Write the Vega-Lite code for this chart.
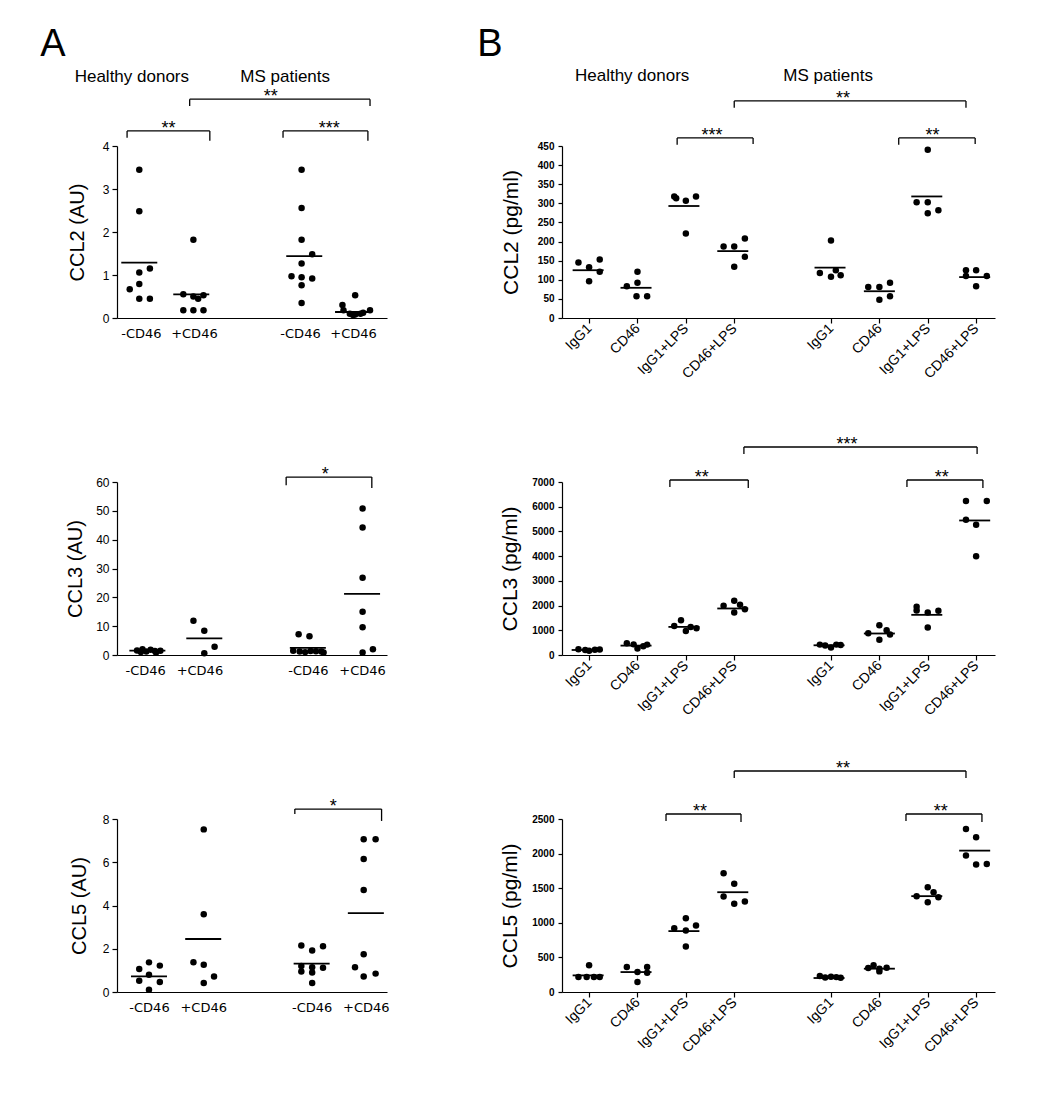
{
"$schema":"https://vega.github.io/schema/vega-lite/v6.json",
"background":"white",
"padding":{"left":40,"top":26,"right":10,"bottom":10},
"bounds":"flush",
"columns":2,
"spacing":{"row":164,"column":175},
"config":{"view":{"stroke":null},"font":"Liberation Sans","axis":{"domainColor":"black","tickColor":"black","labelColor":"black","titleColor":"black","grid":false,"labelFont":"Liberation Sans","titleFont":"Liberation Sans","titleFontWeight":"normal","domainWidth":1.2,"tickWidth":1.2}},
"datasets":{
"A1":[
{"k":"p","x":0.97,"y":3.45},{"k":"p","x":0.97,"y":2.48},{"k":"p","x":1.17,"y":1.15},{"k":"p","x":0.97,"y":1.06},{"k":"p","x":0.97,"y":0.79},{"k":"p","x":0.79,"y":0.67},{"k":"p","x":0.97,"y":0.45},{"k":"p","x":1.17,"y":0.45},
{"k":"p","x":1.99,"y":1.82},{"k":"p","x":1.8,"y":0.55},{"k":"p","x":1.99,"y":0.5},{"k":"p","x":2.18,"y":0.53},{"k":"p","x":2.08,"y":0.45},{"k":"p","x":1.8,"y":0.18},{"k":"p","x":1.99,"y":0.18},{"k":"p","x":2.18,"y":0.18},
{"k":"p","x":4.03,"y":3.45},{"k":"p","x":4.03,"y":2.56},{"k":"p","x":4.03,"y":1.82},{"k":"p","x":4.23,"y":1.48},{"k":"p","x":4.03,"y":1.27},{"k":"p","x":3.84,"y":0.97},{"k":"p","x":4.03,"y":0.95},{"k":"p","x":4.23,"y":0.92},{"k":"p","x":4.03,"y":0.76},{"k":"p","x":4.03,"y":0.35},
{"k":"p","x":5.04,"y":0.53},{"k":"p","x":4.8,"y":0.3},{"k":"p","x":4.82,"y":0.18},{"k":"p","x":4.94,"y":0.1},{"k":"p","x":5.04,"y":0.08},{"k":"p","x":5.14,"y":0.1},{"k":"p","x":5.19,"y":0.12},{"k":"p","x":5.32,"y":0.18},{"k":"p","x":5.0,"y":0.07},
{"k":"m","x":0.97,"y":1.29},{"k":"m","x":1.95,"y":0.55},{"k":"m","x":4.08,"y":1.44},{"k":"m","x":5.0,"y":0.14},
{"k":"s","x":0.74,"x2":2.3,"y":4.35,"y2":4.35},{"k":"s","x":0.74,"x2":0.74,"y":4.35,"y2":4.19},{"k":"s","x":2.3,"x2":2.3,"y":4.35,"y2":4.12},
{"k":"s","x":3.68,"x2":5.28,"y":4.35,"y2":4.35},{"k":"s","x":3.68,"x2":3.68,"y":4.35,"y2":4.19},{"k":"s","x":5.28,"x2":5.28,"y":4.35,"y2":4.12},
{"k":"s","x":1.92,"x2":5.32,"y":5.09,"y2":5.09},{"k":"s","x":1.92,"x2":1.92,"y":5.09,"y2":4.93},{"k":"s","x":5.32,"x2":5.32,"y":5.09,"y2":4.93},
{"k":"t","x":1.52,"y":4.35,"t":"**"},{"k":"t","x":4.55,"y":4.35,"t":"***"},{"k":"t","x":3.45,"y":5.09,"t":"**"},
{"k":"h","x":0.83,"y":5.6,"t":"Healthy donors"},{"k":"h","x":3.72,"y":5.6,"t":"MS patients"},
{"k":"L","x":-0.66,"y":6.09,"t":"A"}
],
"B1":[
{"k":"p","x":0.78,"y":145},{"k":"p","x":1.0,"y":133},{"k":"p","x":1.22,"y":153},{"k":"p","x":1.22,"y":121},{"k":"p","x":1.0,"y":96},
{"k":"p","x":2.0,"y":121},{"k":"p","x":1.78,"y":83},{"k":"p","x":2.0,"y":92},{"k":"p","x":1.98,"y":57},{"k":"p","x":2.2,"y":57},
{"k":"p","x":2.76,"y":318},{"k":"p","x":2.8,"y":313},{"k":"p","x":3.0,"y":307},{"k":"p","x":3.21,"y":318},{"k":"p","x":3.0,"y":221},
{"k":"p","x":3.78,"y":187},{"k":"p","x":4.0,"y":187},{"k":"p","x":4.22,"y":208},{"k":"p","x":4.22,"y":160},{"k":"p","x":4.0,"y":134},
{"k":"p","x":6.0,"y":203},{"k":"p","x":5.77,"y":118},{"k":"p","x":6.0,"y":108},{"k":"p","x":6.1,"y":125},{"k":"p","x":6.2,"y":112},
{"k":"p","x":6.77,"y":81},{"k":"p","x":7.0,"y":81},{"k":"p","x":7.22,"y":92},{"k":"p","x":7.0,"y":48},{"k":"p","x":7.22,"y":57},
{"k":"p","x":8.0,"y":440},{"k":"p","x":7.77,"y":303},{"k":"p","x":8.0,"y":303},{"k":"p","x":8.0,"y":274},{"k":"p","x":8.22,"y":282},
{"k":"p","x":8.79,"y":125},{"k":"p","x":9.0,"y":125},{"k":"p","x":8.79,"y":110},{"k":"p","x":9.22,"y":110},{"k":"p","x":9.0,"y":83},
{"k":"m","x":0.98,"y":125},{"k":"m","x":1.97,"y":79},{"k":"m","x":2.96,"y":293},{"k":"m","x":3.97,"y":175},{"k":"m","x":5.98,"y":132},{"k":"m","x":7.0,"y":70},{"k":"m","x":7.98,"y":318},{"k":"m","x":8.97,"y":107},
{"k":"s","x":2.82,"x2":4.39,"y":471,"y2":471},{"k":"s","x":2.82,"x2":2.82,"y":471,"y2":453},{"k":"s","x":4.39,"x2":4.39,"y":471,"y2":455},
{"k":"s","x":7.4,"x2":8.98,"y":471,"y2":471},{"k":"s","x":7.4,"x2":7.4,"y":471,"y2":453},{"k":"s","x":8.98,"x2":8.98,"y":471,"y2":455},
{"k":"s","x":4.0,"x2":8.79,"y":568,"y2":568},{"k":"s","x":4.0,"x2":4.0,"y":568,"y2":550},{"k":"s","x":8.79,"x2":8.79,"y":568,"y2":550},
{"k":"t","x":3.54,"y":471,"t":"***"},{"k":"t","x":8.1,"y":471,"t":"**"},{"k":"t","x":6.25,"y":568,"t":"**"},
{"k":"h","x":1.89,"y":633,"t":"Healthy donors"},{"k":"h","x":5.94,"y":633,"t":"MS patients"},
{"k":"L","x":-1.05,"y":685,"t":"B"}
],
"A2":[
{"k":"p","x":0.85,"y":1.6},{"k":"p","x":0.95,"y":2.0},{"k":"p","x":1.02,"y":1.2},{"k":"p","x":1.1,"y":1.8},{"k":"p","x":1.18,"y":1.4},{"k":"p","x":1.28,"y":1.5},{"k":"p","x":0.92,"y":1.0},{"k":"p","x":1.2,"y":0.9},
{"k":"p","x":1.89,"y":11.9},{"k":"p","x":2.09,"y":8.4},{"k":"p","x":2.28,"y":2.9},{"k":"p","x":2.09,"y":0.6},
{"k":"p","x":3.83,"y":7.2},{"k":"p","x":4.03,"y":6.5},{"k":"p","x":3.73,"y":1.5},{"k":"p","x":3.85,"y":1.2},{"k":"p","x":3.95,"y":1.0},{"k":"p","x":4.05,"y":1.4},{"k":"p","x":4.15,"y":1.3},{"k":"p","x":4.25,"y":1.2},{"k":"p","x":4.29,"y":0.9},
{"k":"p","x":5.01,"y":50.8},{"k":"p","x":5.01,"y":44.2},{"k":"p","x":5.01,"y":26.8},{"k":"p","x":5.01,"y":15.0},{"k":"p","x":5.01,"y":9.6},{"k":"p","x":5.01,"y":0.9},{"k":"p","x":5.2,"y":2.0},
{"k":"m","x":1.04,"y":1.5},{"k":"m","x":2.09,"y":5.8},{"k":"m","x":4.0,"y":2.5},{"k":"m","x":5.0,"y":21.2},
{"k":"s","x":3.6,"x2":5.18,"y":61.7,"y2":61.7},{"k":"s","x":3.6,"x2":3.6,"y":61.7,"y2":58.9},{"k":"s","x":5.18,"x2":5.18,"y":61.7,"y2":57.9},
{"k":"t","x":4.32,"y":61.7,"t":"*"}
],
"B2":[
{"k":"p","x":0.78,"y":230},{"k":"p","x":0.92,"y":200},{"k":"p","x":1.0,"y":170},{"k":"p","x":1.12,"y":210},{"k":"p","x":1.22,"y":220},
{"k":"p","x":1.78,"y":480},{"k":"p","x":1.92,"y":430},{"k":"p","x":2.0,"y":260},{"k":"p","x":2.12,"y":350},{"k":"p","x":2.2,"y":420},
{"k":"p","x":2.76,"y":1178},{"k":"p","x":2.9,"y":1408},{"k":"p","x":3.0,"y":975},{"k":"p","x":3.1,"y":1137},{"k":"p","x":3.22,"y":1083},
{"k":"p","x":3.78,"y":1990},{"k":"p","x":4.0,"y":2193},{"k":"p","x":4.12,"y":2031},{"k":"p","x":4.22,"y":1855},{"k":"p","x":4.0,"y":1720},
{"k":"p","x":5.77,"y":420},{"k":"p","x":5.88,"y":380},{"k":"p","x":6.0,"y":300},{"k":"p","x":6.11,"y":420},{"k":"p","x":6.2,"y":400},
{"k":"p","x":7.0,"y":1200},{"k":"p","x":6.77,"y":880},{"k":"p","x":7.15,"y":1000},{"k":"p","x":7.22,"y":830},{"k":"p","x":7.0,"y":620},
{"k":"p","x":7.77,"y":1950},{"k":"p","x":7.77,"y":1800},{"k":"p","x":8.0,"y":1720},{"k":"p","x":8.22,"y":1787},{"k":"p","x":8.0,"y":1110},
{"k":"p","x":8.79,"y":6228},{"k":"p","x":9.22,"y":6228},{"k":"p","x":8.79,"y":5470},{"k":"p","x":9.0,"y":5267},{"k":"p","x":9.0,"y":3994},
{"k":"m","x":0.96,"y":203},{"k":"m","x":1.97,"y":380},{"k":"m","x":2.96,"y":1137},{"k":"m","x":3.97,"y":1882},{"k":"m","x":5.96,"y":393},{"k":"m","x":7.0,"y":870},{"k":"m","x":7.98,"y":1625},{"k":"m","x":8.97,"y":5443},
{"k":"s","x":2.67,"x2":4.29,"y":7081,"y2":7081},{"k":"s","x":2.67,"x2":2.67,"y":7081,"y2":6798},{"k":"s","x":4.29,"x2":4.29,"y":7081,"y2":6757},
{"k":"s","x":7.57,"x2":9.14,"y":7081,"y2":7081},{"k":"s","x":7.57,"x2":7.57,"y":7081,"y2":6798},{"k":"s","x":9.14,"x2":9.14,"y":7081,"y2":6757},
{"k":"s","x":4.2,"x2":9.02,"y":8416,"y2":8416},{"k":"s","x":4.2,"x2":4.2,"y":8416,"y2":8133},{"k":"s","x":9.02,"x2":9.02,"y":8416,"y2":8133},
{"k":"t","x":3.33,"y":7081,"t":"**"},{"k":"t","x":8.29,"y":7081,"t":"**"},{"k":"t","x":6.33,"y":8416,"t":"***"}
],
"A3":[
{"k":"p","x":0.82,"y":1.06},{"k":"p","x":1.0,"y":1.37},{"k":"p","x":1.2,"y":1.22},{"k":"p","x":0.82,"y":0.52},{"k":"p","x":1.0,"y":0.8},{"k":"p","x":1.2,"y":0.46},{"k":"p","x":1.0,"y":0.1},
{"k":"p","x":2.01,"y":7.52},{"k":"p","x":2.01,"y":3.6},{"k":"p","x":1.82,"y":1.38},{"k":"p","x":2.01,"y":1.26},{"k":"p","x":2.01,"y":0.42},{"k":"p","x":2.2,"y":0.72},
{"k":"p","x":3.81,"y":2.15},{"k":"p","x":4.01,"y":1.92},{"k":"p","x":4.21,"y":2.12},{"k":"p","x":3.81,"y":1.2},{"k":"p","x":4.01,"y":1.15},{"k":"p","x":4.21,"y":1.12},{"k":"p","x":3.81,"y":0.95},{"k":"p","x":4.01,"y":0.9},{"k":"p","x":4.01,"y":0.42},
{"k":"p","x":4.96,"y":7.06},{"k":"p","x":5.18,"y":7.06},{"k":"p","x":4.96,"y":6.15},{"k":"p","x":4.96,"y":4.72},{"k":"p","x":4.96,"y":1.75},{"k":"p","x":4.8,"y":1.14},{"k":"p","x":4.96,"y":0.72},{"k":"p","x":5.18,"y":0.85},
{"k":"m","x":1.0,"y":0.72},{"k":"m","x":2.0,"y":2.45},{"k":"m","x":4.0,"y":1.31},{"k":"m","x":5.0,"y":3.65},
{"k":"s","x":3.69,"x2":5.29,"y":8.46,"y2":8.46},{"k":"s","x":3.69,"x2":3.69,"y":8.46,"y2":8.23},{"k":"s","x":5.29,"x2":5.29,"y":8.46,"y2":7.91},
{"k":"t","x":4.4,"y":8.46,"t":"*"}
],
"B3":[
{"k":"p","x":1.0,"y":385},{"k":"p","x":0.78,"y":216},{"k":"p","x":0.95,"y":216},{"k":"p","x":1.1,"y":216},{"k":"p","x":1.22,"y":216},
{"k":"p","x":1.78,"y":360},{"k":"p","x":2.0,"y":288},{"k":"p","x":2.2,"y":360},{"k":"p","x":2.2,"y":279},{"k":"p","x":2.0,"y":144},
{"k":"p","x":2.76,"y":923},{"k":"p","x":3.0,"y":1067},{"k":"p","x":3.0,"y":889},{"k":"p","x":3.21,"y":962},{"k":"p","x":3.0,"y":659},
{"k":"p","x":3.78,"y":1716},{"k":"p","x":4.0,"y":1563},{"k":"p","x":3.78,"y":1380},{"k":"p","x":4.0,"y":1274},{"k":"p","x":4.22,"y":1308},
{"k":"p","x":5.77,"y":230},{"k":"p","x":5.88,"y":210},{"k":"p","x":6.0,"y":220},{"k":"p","x":6.11,"y":215},{"k":"p","x":6.2,"y":205},
{"k":"p","x":6.77,"y":346},{"k":"p","x":6.88,"y":385},{"k":"p","x":7.0,"y":337},{"k":"p","x":7.15,"y":351},{"k":"p","x":7.0,"y":298},
{"k":"p","x":8.0,"y":1514},{"k":"p","x":8.12,"y":1442},{"k":"p","x":7.77,"y":1385},{"k":"p","x":8.22,"y":1370},{"k":"p","x":8.0,"y":1298},
{"k":"p","x":8.79,"y":2356},{"k":"p","x":9.0,"y":2236},{"k":"p","x":8.79,"y":1971},{"k":"p","x":9.0,"y":1841},{"k":"p","x":9.22,"y":1851},
{"k":"m","x":0.98,"y":240},{"k":"m","x":1.97,"y":288},{"k":"m","x":2.96,"y":880},{"k":"m","x":3.97,"y":1442},{"k":"m","x":5.96,"y":202},{"k":"m","x":7.0,"y":337},{"k":"m","x":7.98,"y":1385},{"k":"m","x":8.97,"y":2043},
{"k":"s","x":2.59,"x2":4.14,"y":2572,"y2":2572},{"k":"s","x":2.59,"x2":2.59,"y":2572,"y2":2471},{"k":"s","x":4.14,"x2":4.14,"y":2572,"y2":2456},
{"k":"s","x":7.55,"x2":9.12,"y":2572,"y2":2572},{"k":"s","x":7.55,"x2":7.55,"y":2572,"y2":2471},{"k":"s","x":9.12,"x2":9.12,"y":2572,"y2":2456},
{"k":"s","x":4.0,"x2":8.79,"y":3194,"y2":3194},{"k":"s","x":4.0,"x2":4.0,"y":3194,"y2":3093},{"k":"s","x":8.79,"x2":8.79,"y":3194,"y2":3093},
{"k":"t","x":3.29,"y":2572,"t":"**"},{"k":"t","x":8.27,"y":2572,"t":"**"},{"k":"t","x":6.25,"y":3194,"t":"**"}
]
},
"concat":[
{"width":270,"height":172,"data":{"name":"A1"},
"encoding":{"x":{"field":"x","type":"quantitative","scale":{"domain":[0.55,5.64],"nice":false,"zero":false},"axis":{"values":[1,2,4,5],"labelExpr":"datum.value==1||datum.value==4?'-CD46':'+CD46'","ticks":false,"labelFont":"DejaVu Sans","labelFontSize":13,"labelPadding":9,"labelAngle":0,"title":null,"labelOverlap":false}},
"y":{"field":"y","type":"quantitative","scale":{"domain":[0,4],"nice":false,"zero":false},"axis":{"values":[0,1,2,3,4],"format":"d","title":"CCL2 (AU)","titleFontSize":20,"titlePadding":15,"tickSize":5,"labelFontSize":12,"labelPadding":3}}},
"layer":[
{"transform":[{"filter":"datum.k=='p'"}],"mark":{"type":"circle","size":42,"color":"black","opacity":1}},
{"transform":[{"filter":"datum.k=='m'"}],"mark":{"type":"tick","orient":"horizontal","size":36,"thickness":1.8,"color":"black","opacity":1}},
{"transform":[{"filter":"datum.k=='s'"}],"mark":{"type":"rule","color":"black","strokeWidth":1.3},"encoding":{"x2":{"field":"x2"},"y2":{"field":"y2"}}},
{"transform":[{"filter":"datum.k=='t'"}],"mark":{"type":"text","fontSize":18,"baseline":"alphabetic","dy":3,"color":"black"},"encoding":{"text":{"field":"t"}}},
{"transform":[{"filter":"datum.k=='h'"}],"mark":{"type":"text","fontSize":17,"baseline":"middle","color":"black"},"encoding":{"text":{"field":"t"}}},
{"transform":[{"filter":"datum.k=='L'"}],"mark":{"type":"text","fontSize":38,"baseline":"alphabetic","color":"black"},"encoding":{"text":{"field":"t"}}}
]},
{"width":433,"height":172,"data":{"name":"B1"},
"encoding":{"x":{"field":"x","type":"quantitative","scale":{"domain":[0.44,9.39],"nice":false,"zero":false},"axis":{"values":[1,2,3,4,6,7,8,9],"labelExpr":"datum.value==1||datum.value==6?'IgG1':datum.value==2||datum.value==7?'CD46':datum.value==3||datum.value==8?'IgG1+LPS':'CD46+LPS'","labelAngle":-45,"labelAlign":"right","labelBaseline":"middle","tickSize":5,"labelFontSize":14,"labelPadding":3,"title":null,"labelOverlap":false}},
"y":{"field":"y","type":"quantitative","scale":{"domain":[0,450],"nice":false,"zero":false},"axis":{"values":[0,50,100,150,200,250,300,350,400,450],"format":"d","title":"CCL2 (pg/ml)","titleFontSize":21,"titlePadding":16,"tickSize":4,"labelFontSize":10,"labelFontWeight":"bold","labelPadding":4}}},
"layer":[
{"transform":[{"filter":"datum.k=='p'"}],"mark":{"type":"circle","size":42,"color":"black","opacity":1}},
{"transform":[{"filter":"datum.k=='m'"}],"mark":{"type":"tick","orient":"horizontal","size":31,"thickness":1.8,"color":"black","opacity":1}},
{"transform":[{"filter":"datum.k=='s'"}],"mark":{"type":"rule","color":"black","strokeWidth":1.3},"encoding":{"x2":{"field":"x2"},"y2":{"field":"y2"}}},
{"transform":[{"filter":"datum.k=='t'"}],"mark":{"type":"text","fontSize":18,"baseline":"alphabetic","dy":3,"color":"black"},"encoding":{"text":{"field":"t"}}},
{"transform":[{"filter":"datum.k=='h'"}],"mark":{"type":"text","fontSize":17,"baseline":"middle","color":"black"},"encoding":{"text":{"field":"t"}}},
{"transform":[{"filter":"datum.k=='L'"}],"mark":{"type":"text","fontSize":38,"baseline":"alphabetic","color":"black"},"encoding":{"text":{"field":"t"}}}
]},
{"width":270,"height":173,"data":{"name":"A2"},
"encoding":{"x":{"field":"x","type":"quantitative","scale":{"domain":[0.48,5.46],"nice":false,"zero":false},"axis":{"values":[1,2,4,5],"labelExpr":"datum.value==1||datum.value==4?'-CD46':'+CD46'","ticks":false,"labelFont":"DejaVu Sans","labelFontSize":13,"labelPadding":9,"labelAngle":0,"title":null,"labelOverlap":false}},
"y":{"field":"y","type":"quantitative","scale":{"domain":[0,60],"nice":false,"zero":false},"axis":{"values":[0,10,20,30,40,50,60],"format":"d","title":"CCL3 (AU)","titleFontSize":20,"titlePadding":10,"tickSize":5,"labelFontSize":12,"labelPadding":3}}},
"layer":[
{"transform":[{"filter":"datum.k=='p'"}],"mark":{"type":"circle","size":42,"color":"black","opacity":1}},
{"transform":[{"filter":"datum.k=='m'"}],"mark":{"type":"tick","orient":"horizontal","size":36,"thickness":1.8,"color":"black","opacity":1}},
{"transform":[{"filter":"datum.k=='s'"}],"mark":{"type":"rule","color":"black","strokeWidth":1.3},"encoding":{"x2":{"field":"x2"},"y2":{"field":"y2"}}},
{"transform":[{"filter":"datum.k=='t'"}],"mark":{"type":"text","fontSize":18,"baseline":"alphabetic","dy":3,"color":"black"},"encoding":{"text":{"field":"t"}}}
]},
{"width":433,"height":173,"data":{"name":"B2"},
"encoding":{"x":{"field":"x","type":"quantitative","scale":{"domain":[0.44,9.39],"nice":false,"zero":false},"axis":{"values":[1,2,3,4,6,7,8,9],"labelExpr":"datum.value==1||datum.value==6?'IgG1':datum.value==2||datum.value==7?'CD46':datum.value==3||datum.value==8?'IgG1+LPS':'CD46+LPS'","labelAngle":-45,"labelAlign":"right","labelBaseline":"middle","tickSize":5,"labelFontSize":14,"labelPadding":3,"title":null,"labelOverlap":false}},
"y":{"field":"y","type":"quantitative","scale":{"domain":[0,7000],"nice":false,"zero":false},"axis":{"values":[0,1000,2000,3000,4000,5000,6000,7000],"format":"d","title":"CCL3 (pg/ml)","titleFontSize":21,"titlePadding":11,"tickSize":4,"labelFontSize":10,"labelFontWeight":"bold","labelPadding":4}}},
"layer":[
{"transform":[{"filter":"datum.k=='p'"}],"mark":{"type":"circle","size":42,"color":"black","opacity":1}},
{"transform":[{"filter":"datum.k=='m'"}],"mark":{"type":"tick","orient":"horizontal","size":31,"thickness":1.8,"color":"black","opacity":1}},
{"transform":[{"filter":"datum.k=='s'"}],"mark":{"type":"rule","color":"black","strokeWidth":1.3},"encoding":{"x2":{"field":"x2"},"y2":{"field":"y2"}}},
{"transform":[{"filter":"datum.k=='t'"}],"mark":{"type":"text","fontSize":18,"baseline":"alphabetic","dy":3,"color":"black"},"encoding":{"text":{"field":"t"}}}
]},
{"width":270,"height":173,"data":{"name":"A3"},
"encoding":{"x":{"field":"x","type":"quantitative","scale":{"domain":[0.41,5.39],"nice":false,"zero":false},"axis":{"values":[1,2,4,5],"labelExpr":"datum.value==1||datum.value==4?'-CD46':'+CD46'","ticks":false,"labelFont":"DejaVu Sans","labelFontSize":13,"labelPadding":9,"labelAngle":0,"title":null,"labelOverlap":false}},
"y":{"field":"y","type":"quantitative","scale":{"domain":[0,8],"nice":false,"zero":false},"axis":{"values":[0,2,4,6,8],"format":"d","title":"CCL5 (AU)","titleFontSize":20,"titlePadding":13,"tickSize":5,"labelFontSize":12,"labelPadding":3}}},
"layer":[
{"transform":[{"filter":"datum.k=='p'"}],"mark":{"type":"circle","size":42,"color":"black","opacity":1}},
{"transform":[{"filter":"datum.k=='m'"}],"mark":{"type":"tick","orient":"horizontal","size":36,"thickness":1.8,"color":"black","opacity":1}},
{"transform":[{"filter":"datum.k=='s'"}],"mark":{"type":"rule","color":"black","strokeWidth":1.3},"encoding":{"x2":{"field":"x2"},"y2":{"field":"y2"}}},
{"transform":[{"filter":"datum.k=='t'"}],"mark":{"type":"text","fontSize":18,"baseline":"alphabetic","dy":3,"color":"black"},"encoding":{"text":{"field":"t"}}}
]},
{"width":433,"height":173,"data":{"name":"B3"},
"encoding":{"x":{"field":"x","type":"quantitative","scale":{"domain":[0.44,9.39],"nice":false,"zero":false},"axis":{"values":[1,2,3,4,6,7,8,9],"labelExpr":"datum.value==1||datum.value==6?'IgG1':datum.value==2||datum.value==7?'CD46':datum.value==3||datum.value==8?'IgG1+LPS':'CD46+LPS'","labelAngle":-45,"labelAlign":"right","labelBaseline":"middle","tickSize":5,"labelFontSize":14,"labelPadding":3,"title":null,"labelOverlap":false}},
"y":{"field":"y","type":"quantitative","scale":{"domain":[0,2500],"nice":false,"zero":false},"axis":{"values":[0,500,1000,1500,2000,2500],"format":"d","title":"CCL5 (pg/ml)","titleFontSize":21,"titlePadding":11,"tickSize":4,"labelFontSize":10,"labelFontWeight":"bold","labelPadding":4}}},
"layer":[
{"transform":[{"filter":"datum.k=='p'"}],"mark":{"type":"circle","size":42,"color":"black","opacity":1}},
{"transform":[{"filter":"datum.k=='m'"}],"mark":{"type":"tick","orient":"horizontal","size":31,"thickness":1.8,"color":"black","opacity":1}},
{"transform":[{"filter":"datum.k=='s'"}],"mark":{"type":"rule","color":"black","strokeWidth":1.3},"encoding":{"x2":{"field":"x2"},"y2":{"field":"y2"}}},
{"transform":[{"filter":"datum.k=='t'"}],"mark":{"type":"text","fontSize":18,"baseline":"alphabetic","dy":3,"color":"black"},"encoding":{"text":{"field":"t"}}}
]}
]
}
